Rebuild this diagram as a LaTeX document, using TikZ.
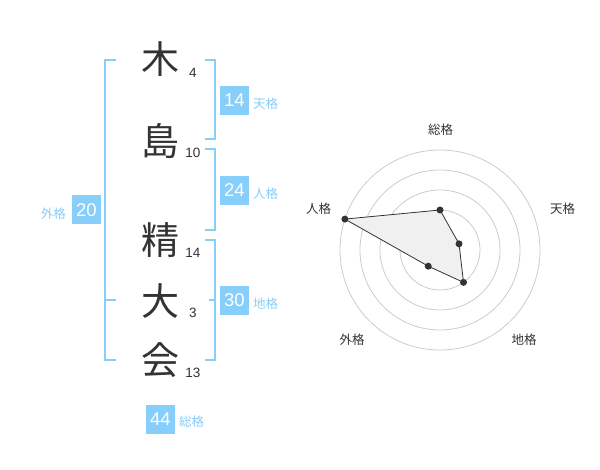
\documentclass[tikz,border=0pt]{standalone}
\usepackage{fontspec}
\setmainfont{Liberation Sans}
\newfontfamily\cjk{Noto Sans CJK JP}
\definecolor{skyb}{RGB}{135,206,250}
\definecolor{ink}{RGB}{51,51,51}
\definecolor{ringc}{RGB}{204,204,204}
\definecolor{fillc}{RGB}{240,240,240}
\begin{document}
\begin{tikzpicture}[x=1pt,y=-1pt,
  kanji/.style={font=\cjk\fontsize{38}{38}\selectfont, text=ink, inner sep=0pt},
  strokes/.style={font=\fontsize{13.5}{13.5}\selectfont, text=ink, inner sep=0pt},
  numbox/.style={fill=skyb, text=white, minimum width=29pt, minimum height=29pt, inner sep=0pt, font=\fontsize{18.5}{18.5}\selectfont},
  lab/.style={font=\cjk\fontsize{12.5}{12.5}\selectfont, text=skyb, inner sep=0pt},
  brk/.style={draw=skyb, line width=2pt},
  ring/.style={draw=ringc, line width=0.8pt},
  rlab/.style={font=\cjk\fontsize{12.5}{12.5}\selectfont, text=ink, inner sep=0pt},
  dot/.style={circle, fill=ink, minimum size=7pt, inner sep=0pt}]
\useasboundingbox (0,0) rectangle (600,470);
\fill[white] (0,0) rectangle (600,470);
% name characters
\node[kanji] (k1) at (160,59) {木};
\node[kanji] (k2) at (160,141) {島};
\node[kanji] (k3) at (160,240) {精};
\node[kanji] (k4) at (160,301) {大};
\node[kanji] (k5) at (160,360) {会};
\node[strokes] (s1) at (193,73) {4};
\node[strokes] (s2) at (193,153) {10};
\node[strokes] (s3) at (193,253) {14};
\node[strokes] (s4) at (193,313) {3};
\node[strokes] (s5) at (193,373) {13};
% brackets
\coordinate (la) at (116,60); \coordinate (lb) at (105,60);
\coordinate (lc) at (105,360); \coordinate (ld) at (116,360);
\coordinate (le) at (105,300); \coordinate (lf) at (116,300);
\draw[brk] (la) -- (lb) -- (lc) -- (ld);
\draw[brk] (le) -- (lf);
\coordinate (ta) at (205,60); \coordinate (tb) at (215,60);
\coordinate (tc) at (215,139); \coordinate (td) at (205,139);
\draw[brk] (ta) -- (tb) -- (tc) -- (td);
\coordinate (ja) at (205,149); \coordinate (jb) at (215,149);
\coordinate (jc) at (215,230); \coordinate (jd) at (205,230);
\draw[brk] (ja) -- (jb) -- (jc) -- (jd);
\coordinate (ca) at (205,240); \coordinate (cb) at (215,240);
\coordinate (cc) at (215,360); \coordinate (cd) at (205,360);
\coordinate (ce) at (209,300); \coordinate (cf) at (215,300);
\draw[brk] (ca) -- (cb) -- (cc) -- (cd);
\draw[brk] (ce) -- (cf);
% boxes and labels
\node[numbox] (b1) at (234.5,100.3) {14};
\node[lab, anchor=west] (l1) at (253,104) {天格};
\node[numbox] (b2) at (234.5,190.3) {24};
\node[lab, anchor=west] (l2) at (253,194) {人格};
\node[numbox] (b3) at (234.5,300.3) {30};
\node[lab, anchor=west] (l3) at (253,304) {地格};
\node[numbox] (b4) at (86.5,210) {20};
\node[lab, anchor=east] (l4) at (66,214) {外格};
\node[numbox] (b5) at (160.5,419) {44};
\node[lab, anchor=west] (l5) at (179,422) {総格};
% radar chart (y axis points down, so angles are negated)
\coordinate (o) at (440,250);
\foreach \r in {20,40,60,80,100} \draw[ring] (o) circle[radius=\r];
\node[circle, fill=ringc, minimum size=7pt, inner sep=0pt] (oc) at (o) {};
\path (o) ++(-90:40) coordinate (p1)
      (o) ++(-18:20) coordinate (p2)
      (o) ++(54:40) coordinate (p3)
      (o) ++(126:20) coordinate (p4)
      (o) ++(-162:100) coordinate (p5);
\filldraw[fill=fillc, draw=ink, line width=0.8pt] (p1) -- (p2) -- (p3) -- (p4) -- (p5) -- cycle;
\foreach \p in {p1,p2,p3,p4,p5} \node[dot] (d\p) at (\p) {};
\node[rlab] (r1) at (440.5,130) {総格};
\node[rlab] (r2) at (562.5,208.5) {天格};
\node[rlab] (r3) at (524,340) {地格};
\node[rlab] (r4) at (352,340) {外格};
\node[rlab] (r5) at (318.5,208.5) {人格};
\end{tikzpicture}
\end{document}
